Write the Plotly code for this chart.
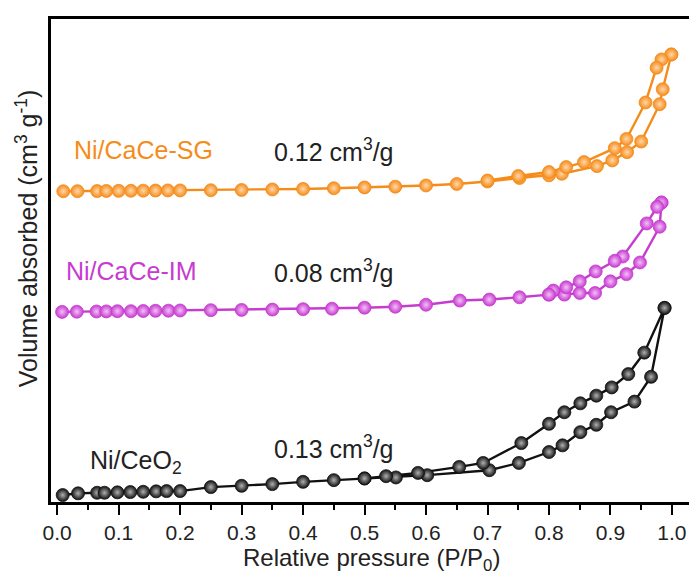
import plotly.graph_objects as go

# Relative pressure (P/P0) and volume absorbed (arbitrary offset units)
ceo2_ads_p = [0.009, 0.034, 0.065, 0.077, 0.098, 0.119, 0.14, 0.161, 0.178, 0.2, 0.25, 0.3, 0.35, 0.4, 0.45, 0.5,
              0.551, 0.602, 0.703, 0.751, 0.80, 0.822, 0.851, 0.877, 0.901, 0.939, 0.966, 0.988]
ceo2_ads_v = [7, 8.7, 9.3, 9.3, 9.7, 10, 10.3, 10.7, 11, 11, 15, 16.3, 18, 20.3, 22, 23.7,
              24.7, 27, 32, 39.3, 50.3, 57, 70.3, 77.7, 90.3, 101, 126, 195.3]
ceo2_des_p = [0.988, 0.955, 0.929, 0.902, 0.877, 0.851, 0.825, 0.80, 0.755, 0.693, 0.654, 0.587, 0.535, 0.5]
ceo2_des_v = [195.3, 150.3, 128.7, 115.3, 107, 99.3, 90.3, 78.7, 59.3, 39.3, 35.3, 29.3, 26, 23.7]

im_ads_p = [0.008, 0.032, 0.064, 0.08, 0.098, 0.12, 0.14, 0.16, 0.181, 0.2, 0.25, 0.3, 0.35, 0.4, 0.447, 0.5,
            0.55, 0.6, 0.655, 0.703, 0.752, 0.80, 0.825, 0.85, 0.875, 0.90, 0.926, 0.948, 0.98, 0.983]
im_ads_v = [191.3, 191.5, 191.7, 191.8, 192, 192, 192.2, 192.4, 192.5, 192.7, 193, 193.3, 193.6, 194, 194.5, 195.5,
            196.5, 198.5, 202.7, 203.7, 206, 208.7, 208.7, 210.3, 210.3, 222, 229.3, 241, 277, 301.3]
im_des_p = [0.983, 0.976, 0.959, 0.92, 0.907, 0.876, 0.85, 0.828, 0.807, 0.80]
im_des_v = [301.3, 297, 280.3, 247, 242.7, 232, 222, 216, 212.7, 208.7]

sg_ads_p = [0.01, 0.033, 0.065, 0.08, 0.1, 0.12, 0.14, 0.16, 0.18, 0.2, 0.25, 0.3, 0.35, 0.4, 0.45, 0.5,
            0.55, 0.6, 0.65, 0.7, 0.752, 0.80, 0.821, 0.878, 0.903, 0.927, 0.95, 0.98, 0.985, 0.999]
sg_ads_v = [312.7, 312.8, 312.9, 313, 313.1, 313.2, 313.3, 313.4, 313.5, 313.5, 313.7, 314, 314.5, 315, 315.7, 316.5,
            317.3, 318.5, 320, 322.5, 326, 328.7, 330.3, 338, 343.7, 352, 362.7, 400.3, 415.3, 450.3]
sg_des_p = [0.999, 0.983, 0.975, 0.957, 0.926, 0.907, 0.857, 0.828, 0.80, 0.75, 0.70]
sg_des_v = [450.3, 445.3, 437, 402, 365.3, 356, 342, 337, 332, 328, 323.5]

series_names = ["Ni/CeO<sub>2</sub>", "Ni/CaCe-IM", "Ni/CaCe-SG"]
series_colors = ["#111111", "#c63ccf", "#f58c1a"]
series_light = ["#b0b0b0", "#f4c0f8", "#ffd8ac"]
pore_volumes = ["0.13 cm<sup>3</sup>/g", "0.08 cm<sup>3</sup>/g", "0.12 cm<sup>3</sup>/g"]

x_title = "Relative pressure (P/P<sub>0</sub>)"
y_title = "Volume absorbed (cm<sup>3</sup> g<sup>-1</sup>)"

data = [
    (ceo2_ads_p + ceo2_des_p, ceo2_ads_v + ceo2_des_v),
    (im_ads_p + im_des_p, im_ads_v + im_des_v),
    (sg_ads_p + sg_des_p, sg_ads_v + sg_des_v),
]

FONT = "Liberation Sans, Arial, sans-serif"
fig = go.Figure()
for (px, pv), name, col, light in zip(data, series_names, series_colors, series_light):
    fig.add_trace(go.Scatter(
        x=px, y=pv, mode="lines+markers", name=name,
        line=dict(color=col, width=2.4),
        marker=dict(size=13, color=col, gradient=dict(type="radial", color=light),
                    line=dict(width=0.8, color=col)),
        showlegend=False,
    ))

# labels
label_pos = [(0.05, 40), (0.011, 232), (0.024, 354)]
value_pos = [(0.35, 55), (0.35, 232), (0.35, 354)]
for name, col, (lx, ly), (vx, vy), vol in zip(series_names, series_colors, label_pos, value_pos, pore_volumes):
    fig.add_annotation(x=lx, y=ly, text=name, showarrow=False, xanchor="left", yanchor="middle",
                       font=dict(family=FONT, size=25, color=col if col != "#111111" else "#222222"))
    fig.add_annotation(x=vx, y=vy, text=vol, showarrow=False, xanchor="left", yanchor="middle",
                       font=dict(family=FONT, size=25, color="#222222"))

fig.add_annotation(xref="paper", yref="paper", x=-0.0375, y=0.546, text=y_title, textangle=-90,
                   showarrow=False, xanchor="center", yanchor="middle",
                   font=dict(family=FONT, size=25, color="#222222"))
fig.add_annotation(xref="paper", yref="paper", x=0.5, y=-0.119, text=x_title,
                   showarrow=False, xanchor="center", yanchor="middle",
                   font=dict(family=FONT, size=24, color="#222222"))

fig.update_layout(
    width=697, height=576,
    margin=dict(l=43, r=14, t=8, b=82),
    paper_bgcolor="white", plot_bgcolor="white",
    font=dict(family=FONT, size=22, color="#222222"),
    xaxis=dict(range=[-0.01, 1.031], tick0=0, dtick=0.1, tickformat=".1f",
               showline=True, linecolor="black", linewidth=2.5, mirror=True,
               ticks="outside", ticklen=10, tickwidth=2, tickcolor="black",
               minor=dict(ticks="outside", ticklen=5, tickwidth=2, tickcolor="black", dtick=0.05),
               showgrid=False, zeroline=False,
               tickfont=dict(family=FONT, size=21, color="#222222")),
    yaxis=dict(range=[0, 486], showline=True, linecolor="black", linewidth=2.5, mirror=True,
               showticklabels=False, ticks="", showgrid=False, zeroline=False),
)

fig.write_html("out.html")
